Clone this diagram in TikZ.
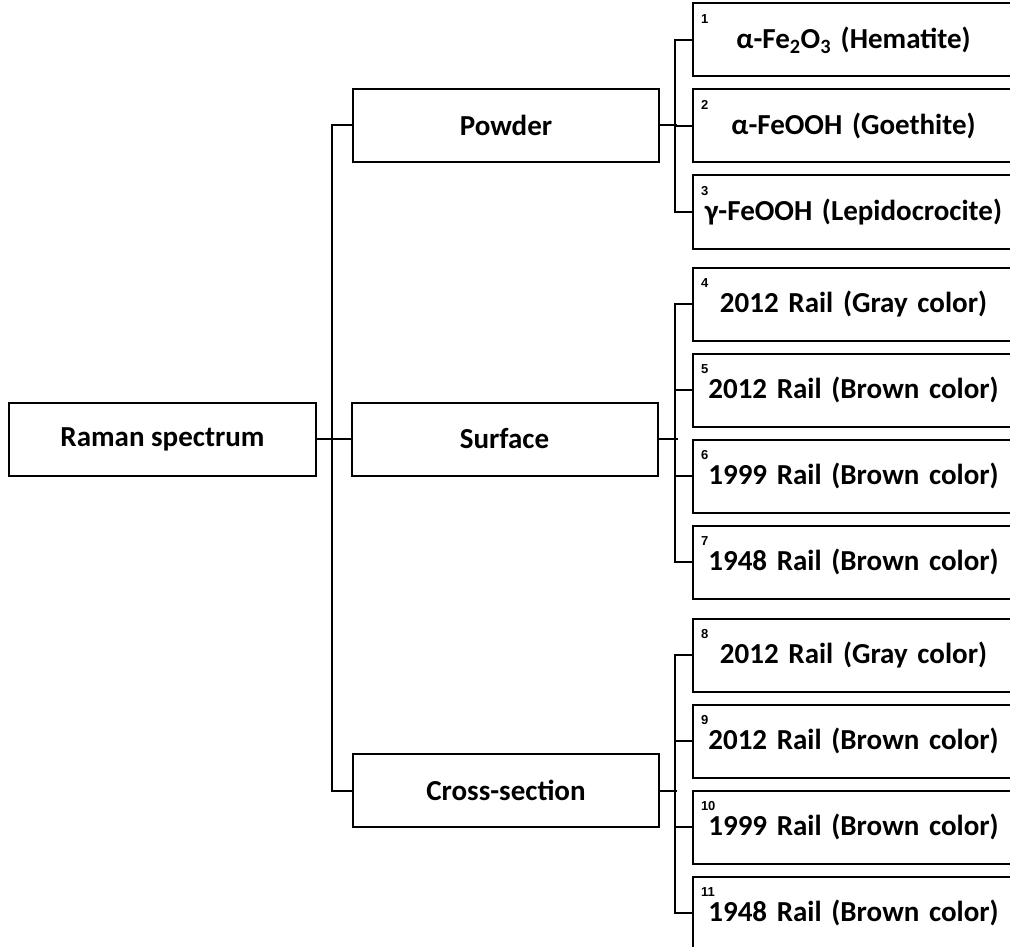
\documentclass[tikz,border=0pt]{standalone}
\usepackage{fontspec}
\setmainfont{Carlito}
\newfontfamily\numfont{Liberation Sans}
\begin{document}
\begin{tikzpicture}[x=1pt,y=-1pt,
  line width=2pt,
  box/.style={draw=black,rectangle,inner sep=0pt,minimum height=73pt,
    font=\fontsize{29}{34}\selectfont\bfseries},
  midbox/.style={box,minimum width=306pt},
  leafbox/.style={box,minimum width=321pt,text width=321pt,align=center},
  numlbl/.style={inner sep=0pt,anchor=west,font=\numfont\fontsize{13}{14}\selectfont\bfseries}
]
\useasboundingbox (0,0) rectangle (1010,947);
\clip (0,0) rectangle (1010,947);
\fill[white] (0,0) rectangle (1010,947);
% level 0
\node[box,minimum width=307pt] (raman) at (162.5,439) {Raman spectrum};
% level 1
\node[midbox] (powder) at (506,125.5) {Powder};
\node[midbox] (surface) at (504.5,439) {Surface};
\node[midbox] (cross) at (506,790.5) {Cross-section};
% level 2
\node[leafbox] (r1) at (853.5,40) {α-Fe\textsubscript{2}O\textsubscript{3} (Hematite)};
\node[leafbox] (r2) at (853.5,126) {α-FeOOH (Goethite)};
\node[leafbox] (r3) at (853.5,212) {γ-FeOOH (Lepidocrocite)};
\node[leafbox] (r4) at (853.5,304) {2012 Rail (Gray color)};
\node[leafbox] (r5) at (853.5,390) {2012 Rail (Brown color)};
\node[leafbox] (r6) at (853.5,476) {1999 Rail (Brown color)};
\node[leafbox] (r7) at (853.5,562) {1948 Rail (Brown color)};
\node[leafbox] (r8) at (853.5,655) {2012 Rail (Gray color)};
\node[leafbox] (r9) at (853.5,741) {2012 Rail (Brown color)};
\node[leafbox] (r10) at (853.5,827) {1999 Rail (Brown color)};
\node[leafbox] (r11) at (853.5,913) {1948 Rail (Brown color)};
% numbers
\foreach \i in {1,...,11}{
  \node[numlbl] (n\i) at ([shift={(8,16.5)}]r\i.north west) {\i};
}
% connectors level 0-1
\draw (raman.east) -- (surface.west);
\draw (powder.west) -- ++(-20,0) coordinate (b0) -- (b0 |- cross.west) -- (cross.west);
% powder group
\draw (powder.east) -- ++(17,0);
\draw (r1.west) -- ++(-17,0) coordinate (b1) -- (b1 |- r3.west) -- (r3.west);
\draw (r2.west) -- ++(-17,0);
% surface group
\draw (surface.east) -- ++(19,0);
\draw (r4.west) -- ++(-17,0) coordinate (b2) -- (b2 |- r7.west) -- (r7.west);
\draw (r5.west) -- ++(-17,0);
\draw (r6.west) -- ++(-17,0);
% cross-section group
\draw (cross.east) -- ++(17,0);
\draw (r8.west) -- ++(-17,0) coordinate (b3) -- (b3 |- r11.west) -- (r11.west);
\draw (r9.west) -- ++(-17,0);
\draw (r10.west) -- ++(-17,0);
\end{tikzpicture}
\end{document}
